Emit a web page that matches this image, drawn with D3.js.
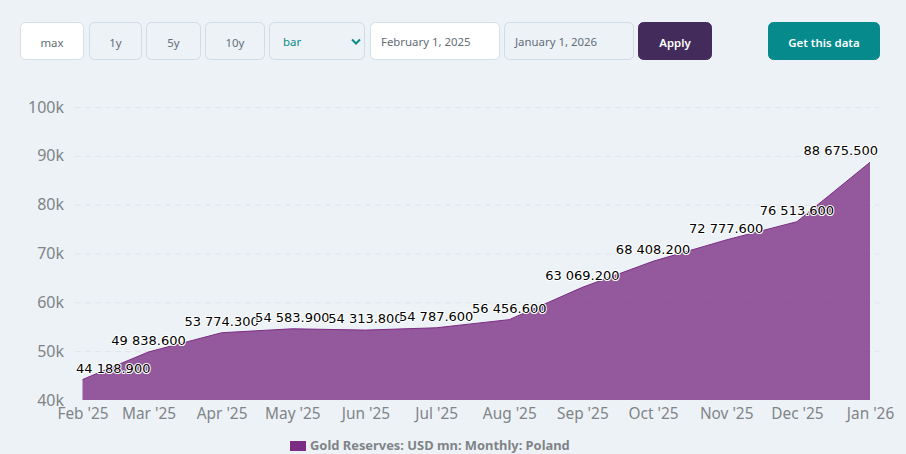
<!DOCTYPE html>
<html>
<head>
<meta charset="utf-8">
<script src="https://cdn.jsdelivr.net/npm/d3@7"></script>
<style>
    html, body { margin: 0; padding: 0; background: #edf2f7; overflow: hidden; }
    svg { display: block; }
    .ui { font-family: "Noto Sans", sans-serif; font-size: 11.4px; }
    .axis text { font-family: "Noto Sans", sans-serif; fill: #808487; }
    .axis .domain { display: none; }
    .axis .tick line { display: none; }
    .grid line { stroke: #dfe5ea; stroke-dasharray: 6 4; }
    .point-label { font-family: "DejaVu Sans", sans-serif; font-size: 13px; fill: #000; stroke: #fff; stroke-width: 2px; paint-order: stroke; stroke-linejoin: round; }
    .legend-text { font-family: "Noto Sans", sans-serif; font-size: 12.9px; font-weight: 700; fill: #808487; }
</style>
</head>
<body>
<svg id="chart" width="906" height="454"></svg>
<script>
// chart values
var months = ["2025-02-01", "2025-03-01", "2025-04-01", "2025-05-01", "2025-06-01", "2025-07-01",
    "2025-08-01", "2025-09-01", "2025-10-01", "2025-11-01", "2025-12-01", "2026-01-01"];
var reserves = [44188.9, 49838.6, 53774.3, 54583.9, 54313.8, 54787.6,
    56456.6, 63069.2, 68408.2, 72777.6, 76513.6, 88675.5];
var yTicks = [40000, 50000, 60000, 70000, 80000, 90000, 100000];
var seriesName = "Gold Reserves: USD mn: Monthly: Poland";

var parseMonth = d3.utcParse("%Y-%m-%d");
var formatMonth = d3.utcFormat("%b '%y");
var points = months.map(function (m, i) {
    return { date: parseMonth(m), value: reserves[i] };
});

var svg = d3.select("#chart");

var x = d3.scaleUtc().domain(d3.extent(points, function (d) { return d.date; })).range([82.5, 870]);
var y = d3.scaleLinear().domain([40000, 100000]).range([400, 107]);

// top controls
function control(x0, x1, label, fill, stroke, color, weight) {
    var g = svg.append("g").attr("class", "ui");
    g.append("rect").attr("x", x0 + 0.5).attr("y", 22.5).attr("width", x1 - x0 - 1).attr("height", 37)
        .attr("rx", 5).attr("fill", fill).attr("stroke", stroke);
    return g.append("text").attr("x", (x0 + x1) / 2).attr("y", 47).attr("text-anchor", "middle")
        .attr("fill", color).attr("font-weight", weight || 400).text(label);
}
control(20, 84, "max", "#fff", "#d5dfe8", "#646e78");
control(89, 142, "1y", "#edf2f7", "#cfdbe6", "#646e78");
control(146, 201, "5y", "#edf2f7", "#cfdbe6", "#646e78");
control(205, 265, "10y", "#edf2f7", "#cfdbe6", "#646e78");
control(269, 365, "bar", "#edf2f7", "#cfdbe6", "#0b8a8a").attr("x", 283).attr("y", 46).attr("text-anchor", "start");
svg.append("path").attr("d", "M352 39.5 L356 43.5 L360 39.5").attr("fill", "none")
    .attr("stroke", "#0b8a8a").attr("stroke-width", 2);
control(370, 500, "February 1, 2025", "#fff", "#d5dfe8", "#646e78").attr("x", 381).attr("y", 46).attr("text-anchor", "start");
control(504, 634, "January 1, 2026", "#edf2f7", "#cfdbe6", "#646e78").attr("x", 515).attr("y", 46).attr("text-anchor", "start");
control(638, 712, "Apply", "#432c5c", "#432c5c", "#fff", 600);
control(768, 880, "Get this data", "#068a8c", "#068a8c", "#fff", 600);

// grid
svg.append("g").attr("class", "grid")
    .selectAll("line").data(yTicks.slice(1)).join("line")
    .attr("x1", 75).attr("x2", 879)
    .attr("y1", function (d) { return y(d) + 0.5; })
    .attr("y2", function (d) { return y(d) + 0.5; });

// area and top line
var area = d3.area()
    .x(function (d) { return x(d.date); })
    .y0(y(40000))
    .y1(function (d) { return y(d.value); });
var line = d3.line()
    .x(function (d) { return x(d.date); })
    .y(function (d) { return y(d.value); });

svg.append("path").datum(points).attr("d", area).attr("fill", "#7b2d83").attr("fill-opacity", 0.78);
svg.append("path").datum(points).attr("d", line).attr("fill", "none").attr("stroke", "#7b2d83").attr("stroke-width", 1);

// axes
var yAxis = d3.axisLeft(y).tickValues(yTicks).tickSize(0).tickPadding(0)
    .tickFormat(function (d) { return (d / 1000) + "k"; });
svg.append("g").attr("class", "axis").attr("transform", "translate(64,0)").call(yAxis)
    .selectAll("text").style("font-size", "16px");

var xAxis = d3.axisBottom(x).tickValues(points.map(function (d) { return d.date; })).tickSize(0).tickPadding(0)
    .tickFormat(formatMonth);
svg.append("g").attr("class", "axis").attr("transform", "translate(0,408)").call(xAxis)
    .selectAll("text").style("font-size", "15.4px");

// value labels, kept inside the plot like the original
function formatValue(v) {
    return d3.format(",.3f")(v).replace(/,/g, " ");
}
svg.append("g").selectAll("text").data(points).join("text")
    .attr("class", "point-label")
    .attr("text-anchor", "middle")
    .attr("y", function (d) { return y(d.value) - 7; })
    .text(function (d) { return formatValue(d.value); })
    .attr("x", function (d) {
        var w = this.getComputedTextLength();
        return Math.max(76 + w / 2, Math.min(878 - w / 2, x(d.date)));
    });

// legend
svg.append("rect").attr("x", 290).attr("y", 441).attr("width", 16).attr("height", 10).attr("fill", "#7b2d83");
svg.append("text").attr("class", "legend-text").attr("x", 310).attr("y", 450).text(seriesName);
</script>
</body>
</html>
